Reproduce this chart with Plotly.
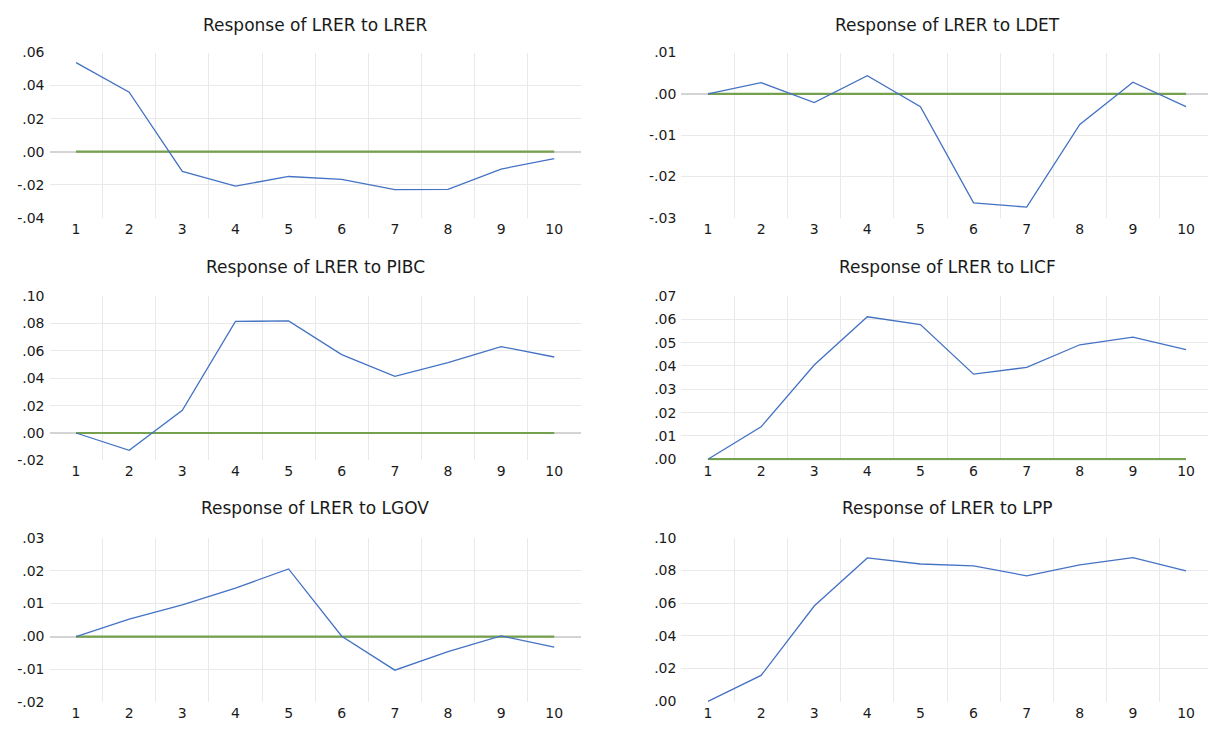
import plotly.graph_objects as go

# Impulse-response horizons
periods = [1, 2, 3, 4, 5, 6, 7, 8, 9, 10]

# Responses of LRER to each shock
resp_lrer = [0.0539, 0.0360, -0.0119, -0.0208, -0.0150, -0.0168, -0.0230, -0.0228, -0.0105, -0.0042]
resp_ldet = [0.0000, 0.0027, -0.0021, 0.0044, -0.0031, -0.0264, -0.0274, -0.0074, 0.0028, -0.0031]
resp_pibc = [0.0000, -0.0126, 0.0165, 0.0815, 0.0818, 0.0572, 0.0414, 0.0514, 0.0631, 0.0555]
resp_licf = [0.0000, 0.0139, 0.0404, 0.0611, 0.0578, 0.0365, 0.0394, 0.0491, 0.0524, 0.0470]
resp_lgov = [0.0000, 0.0053, 0.0096, 0.0147, 0.0205, 0.0001, -0.0102, -0.0046, 0.0002, -0.0032]
resp_lpp = [0.0000, 0.0158, 0.0582, 0.0876, 0.0839, 0.0827, 0.0767, 0.0833, 0.0878, 0.0797]

titles = [
    "Response of LRER to LRER",
    "Response of LRER to LDET",
    "Response of LRER to PIBC",
    "Response of LRER to LICF",
    "Response of LRER to LGOV",
    "Response of LRER to LPP",
]

# Y tick values and their labels for each panel
yticks_lrer = [-0.04, -0.02, 0.00, 0.02, 0.04, 0.06]
ylabels_lrer = ["-.04", "-.02", ".00", ".02", ".04", ".06"]
yticks_ldet = [-0.03, -0.02, -0.01, 0.00, 0.01]
ylabels_ldet = ["-.03", "-.02", "-.01", ".00", ".01"]
yticks_pibc = [-0.02, 0.00, 0.02, 0.04, 0.06, 0.08, 0.10]
ylabels_pibc = ["-.02", ".00", ".02", ".04", ".06", ".08", ".10"]
yticks_licf = [0.00, 0.01, 0.02, 0.03, 0.04, 0.05, 0.06, 0.07]
ylabels_licf = [".00", ".01", ".02", ".03", ".04", ".05", ".06", ".07"]
yticks_lgov = [-0.02, -0.01, 0.00, 0.01, 0.02, 0.03]
ylabels_lgov = ["-.02", "-.01", ".00", ".01", ".02", ".03"]
yticks_lpp = [0.00, 0.02, 0.04, 0.06, 0.08, 0.10]
ylabels_lpp = [".00", ".02", ".04", ".06", ".08", ".10"]

series = [resp_lrer, resp_ldet, resp_pibc, resp_licf, resp_lgov, resp_lpp]
yticks = [yticks_lrer, yticks_ldet, yticks_pibc, yticks_licf, yticks_lgov, yticks_lpp]
ylabels = [ylabels_lrer, ylabels_ldet, ylabels_pibc, ylabels_licf, ylabels_lgov, ylabels_lpp]
show_zero_ref = [True, True, True, True, True, False]

W, H = 1208, 731
FONT = "DejaVu Sans"
BLUE = "#4472c4"
GREEN = "#75a04d"
GRID = "#e9e9e9"
AXIS = "#d4d4d4"
TEXT = "#1a1a1a"

# Panel plot areas in pixels: (left, right, top, bottom)
col_x = [(49.5, 580.8), (681.4, 1212.6)]
row_y = [(45.5, 214.5), (294.5, 462.5), (541.5, 710.0)]
title_y = [17, 265, 511]

fig = go.Figure()
layout = dict(
    width=W, height=H,
    margin=dict(l=0, r=0, t=0, b=0),
    paper_bgcolor="white", plot_bgcolor="white",
    showlegend=False,
    annotations=[],
)

for i in range(6):
    r, c = divmod(i, 2)
    left, right = col_x[c]
    top, bottom = row_y[r]
    # category axis spans half a step either side of the first/last period
    step = (right - left) / 10.0
    vis_right = min(right, W)
    x1 = 0.5 + (vis_right - left) / step
    dom_x = [left / W, vis_right / W]
    dom_y = [1 - bottom / H, 1 - top / H]
    n = "" if i == 0 else str(i + 1)
    xa, ya = "x" + n, "y" + n

    yt = yticks[i]
    y_lo, y_hi = yt[0], yt[-1]
    if yt[0] == 0:
        # keep a baseline sitting on the bottom edge fully visible
        y_lo = -(y_hi - y_lo) / (bottom - top) * 1.2

    if show_zero_ref[i]:
        fig.add_trace(go.Scatter(
            x=[periods[0], periods[-1]], y=[0, 0], mode="lines",
            line=dict(color=GREEN, width=2.2), xaxis=xa, yaxis=ya,
            hoverinfo="skip"))
    fig.add_trace(go.Scatter(
        x=periods, y=series[i], mode="lines",
        line=dict(color=BLUE, width=1.3), xaxis=xa, yaxis=ya))

    layout["xaxis" + n] = dict(
        domain=dom_x, anchor=ya, range=[0.5, x1],
        tickvals=periods, ticktext=[str(p) for p in periods],
        showgrid=False, zeroline=False, showline=False, ticks="",
        minor=dict(tickvals=[p + 0.5 for p in periods[:-1]], showgrid=True,
                   gridcolor=GRID, gridwidth=1.3, ticks=""),
        tickfont=dict(family=FONT, size=14, color=TEXT),
        ticklabelstandoff=1,
        fixedrange=True,
    )
    layout["yaxis" + n] = dict(
        domain=dom_y, anchor=xa, range=[y_lo, y_hi],
        tickvals=yt, ticktext=ylabels[i],
        showgrid=False, showline=False, ticks="",
        zeroline=show_zero_ref[i] and yt[0] != 0, zerolinecolor=AXIS,
        zerolinewidth=1.5,
        minor=dict(tickvals=yt[1:-1], showgrid=True, gridcolor=GRID,
                   gridwidth=1.3, ticks=""),
        tickfont=dict(family=FONT, size=14, color=TEXT),
        ticklabelstandoff=4,
        fixedrange=True,
    )
    layout["annotations"].append(dict(
        text=titles[i], xref="paper", yref="paper",
        x=((left + right) / 2) / W, y=1 - title_y[r] / H,
        xanchor="center", yanchor="middle", showarrow=False,
        font=dict(family=FONT, size=17, color=TEXT),
    ))

fig.update_layout(**layout)
fig.write_html("out.html")
